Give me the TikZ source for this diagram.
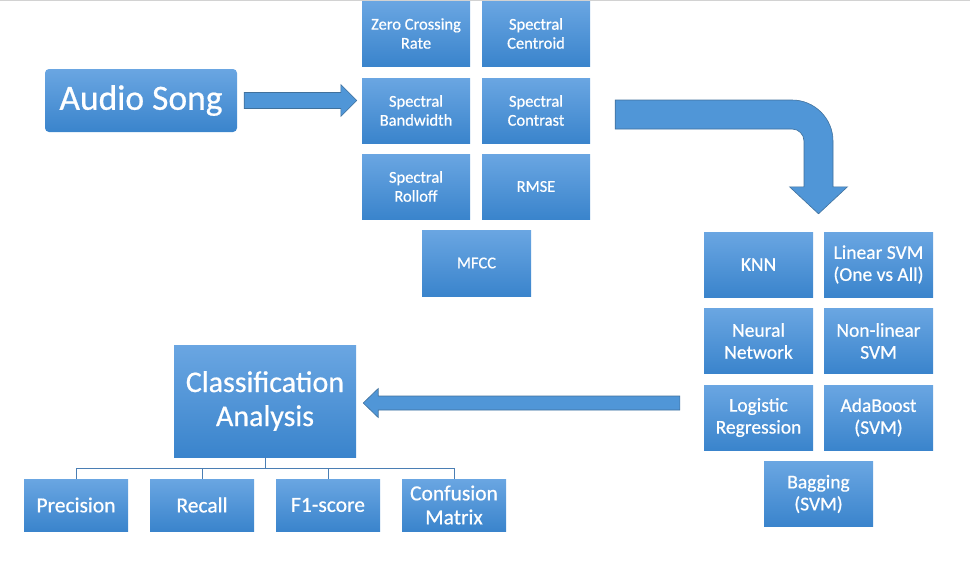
\documentclass[tikz,border=0pt]{standalone}
\usepackage{fontspec}
\setmainfont{Carlito}[FakeBold=0.6]
\usetikzlibrary{calc}
\definecolor{boxtop}{HTML}{6AA6E2}
\definecolor{boxbot}{HTML}{3A84CC}
\definecolor{arrfill}{HTML}{5096D7}
\definecolor{arrline}{HTML}{41719C}
\definecolor{treeline}{HTML}{4A7EB4}

\begin{document}
\begin{tikzpicture}[x=1pt,y=-1pt,
    box/.style={rectangle,top color=boxtop,bottom color=boxbot,text=white,align=center,inner sep=0pt},
    feat/.style={box,minimum width=108pt,minimum height=65pt,font=\fontsize{16.5}{19}\selectfont},
    clf/.style={box,minimum width=109pt,minimum height=65pt,font=\fontsize{19.5}{22}\selectfont},
    metric/.style={box,minimum width=104pt,minimum height=52pt,font=\fontsize{21.5}{24}\selectfont},
    blockarrow/.style={fill=arrfill,draw=arrline,line width=.6pt}]
  \useasboundingbox (0,0) rectangle (970,563);
  \draw[gray!35] (0,.5) -- (970,.5);
  % input
  \node[box,rounded corners=4pt,minimum width=192pt,minimum height=63pt,font=\fontsize{35.5}{40}\selectfont] (audio) at (141,100.5) {Audio Song};
  % features
  \node[feat] (zcr) at (416,33.5) {Zero Crossing\\Rate};
  \node[feat] (cent) at (536,33.5) {Spectral\\Centroid};
  \node[feat] (band) at (416,110.5) {Spectral\\Bandwidth};
  \node[feat] (contr) at (536,110.5) {Spectral\\Contrast};
  \node[feat] (roll) at (416,186.5) {Spectral\\Rolloff};
  \node[feat] (rmse) at (536,186.5) {RMSE};
  \node[feat,minimum width=109pt,minimum height=66pt] (mfcc) at (476.5,263) {MFCC};
  % classifiers
  \node[clf] (knn) at (758.5,264.5) {KNN};
  \node[clf] (lsvm) at (878.5,264.5) {Linear SVM\\(One vs All)};
  \node[clf] (nn) at (758.5,341) {Neural\\Network};
  \node[clf] (nlsvm) at (878.5,341) {Non-linear\\SVM};
  \node[clf] (logreg) at (758.5,417.5) {Logistic\\Regression};
  \node[clf] (ada) at (878.5,417.5) {AdaBoost\\(SVM)};
  \node[clf] (bag) at (818.5,494) {Bagging\\(SVM)};
  % analysis
  \node[box,minimum width=182pt,minimum height=112pt,font=\fontsize{30}{34}\selectfont] (class) at (265,401) {Classification\\Analysis};
  \node[metric] (prec) at (76,505) {Precision};
  \node[metric] (recall) at (202,505) {Recall};
  \node[metric] (f1) at (328,505) {F1-score};
  \node[metric] (conf) at (454,505) {Confusion\\Matrix};
  \draw[treeline,line width=.8pt] (class.south) -- ++(0,11) coordinate (tj);
  \foreach \m in {prec,recall,f1,conf}
    \draw[treeline,line width=.8pt] (tj) -| (\m.north);
  % block arrows
  \coordinate (r1) at ($(audio.east)+(7,0)$);
  \coordinate (r2) at ($(band.west|-audio.east)+(-5,0)$);
  \draw[blockarrow] ($(r1)+(0,-8)$) -- ($(r2)+(-16,-8)$) -- ($(r2)+(-16,-16)$) -- (r2)
    -- ($(r2)+(-16,16)$) -- ($(r2)+(-16,8)$) -- ($(r1)+(0,8)$) -- cycle;
  \coordinate (c1) at ($(contr.east)+(25,4)$);
  \coordinate (c2) at ($(knn.north east)!.5!(lsvm.north west)+(0,-18)$);
  \coordinate (k) at (c1 -| c2);
  \draw[blockarrow] ($(c1)+(0,-14.5)$) -- ($(k)+(-26.5,-14.5)$)
    .. controls ($(k)+(-3.9,-14.5)$) and ($(k)+(14.5,3.9)$) .. ($(k)+(14.5,26.5)$)
    -- ($(c2)+(14.5,-27)$) -- ($(c2)+(29,-27)$) -- (c2) -- ($(c2)+(-29,-27)$)
    -- ($(c2)+(-14.5,-27)$) -- ($(k)+(-14.5,26.5)$)
    .. controls ($(k)+(-14.5,19.9)$) and ($(k)+(-19.9,14.5)$) .. ($(k)+(-26.5,14.5)$)
    -- ($(c1)+(0,14.5)$) -- cycle;
  \coordinate (l1) at ($(logreg.west)+(-24,-14.5)$);
  \coordinate (l2) at ($(class.east|-l1)+(7,0)$);
  \draw[blockarrow] ($(l1)+(0,-7)$) -- ($(l2)+(15,-7)$) -- ($(l2)+(15,-14.5)$) -- (l2)
    -- ($(l2)+(15,14.5)$) -- ($(l2)+(15,7)$) -- ($(l1)+(0,7)$) -- cycle;
\end{tikzpicture}
\end{document}
